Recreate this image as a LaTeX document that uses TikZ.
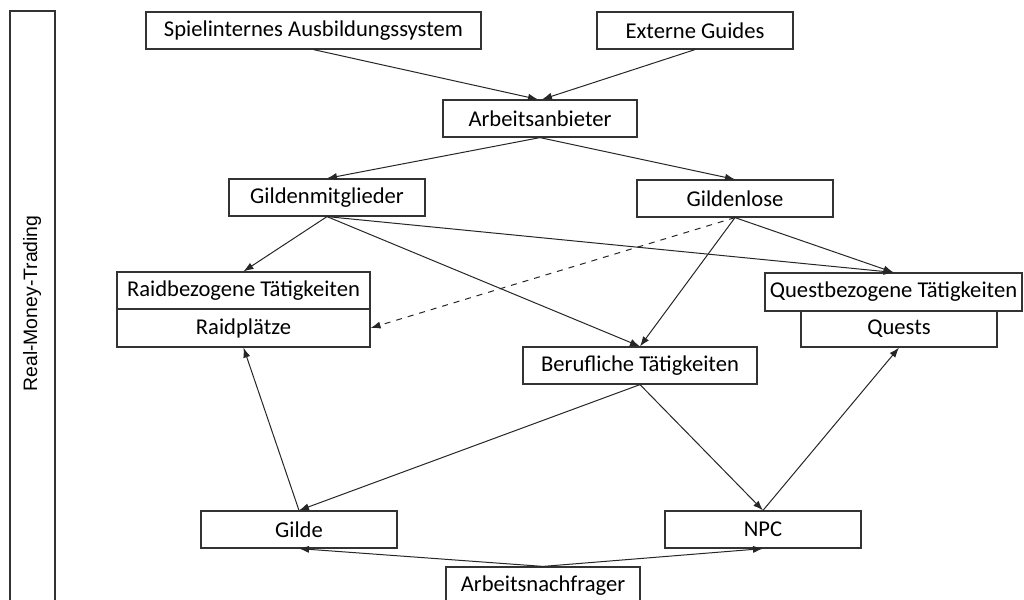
\documentclass[tikz,border=0pt]{standalone}
\usepackage{fontspec}
\setmainfont{Carlito}
\newfontfamily\sidefont{Liberation Sans}
\usetikzlibrary{arrows.meta,positioning}

\begin{document}
\begin{tikzpicture}[x=0.5pt, y=-0.5pt,
  box/.style={rectangle, draw=black!80, line width=0.6pt, fill=white, minimum width=98pt, minimum height=18.5pt, inner sep=0pt, align=center, font=\fontsize{11.3}{13}\selectfont},
  arrow/.style={-{Latex[length=5pt,width=3.6pt]}, line width=0.5pt, black!85}
]
\useasboundingbox (0,0) rectangle (1024,600);
% Seitenleiste
\draw[draw=black!80, line width=0.6pt] (10,11) rectangle (55,640);
\node[rotate=90, font=\sidefont\fontsize{9.7}{11}\selectfont] (rmt) at (32,303.5) {Real-Money-Trading};
% Knoten
\node[box, minimum width=167.5pt] (spiel) at (313.5,30.5) {Spielinternes Ausbildungssystem};
\node[box] (guides) at (695,30.5) {Externe Guides};
\node[box, minimum width=97pt] (anbieter) at (540,118.5) {Arbeitsanbieter};
\node[box] (mitglieder) at (327,197.5) {Gildenmitglieder};
\node[box] (gildenlos) at (735,198.5) {Gildenlose};
\node[box, minimum width=126.5pt] (raidtaet) at (243.5,290.5) {Raidbezogene Tätigkeiten};
\node[box, minimum width=126.5pt, minimum height=19pt] (raidplatz) at (243.5,328) {Raidplätze};
\node[box, minimum width=128.5pt, minimum height=19pt] (questtaet) at (893.5,292) {Questbezogene Tätigkeiten};
\node[box, minimum height=18pt] (quests) at (899,329) {Quests};
\node[box, minimum width=117pt] (beruf) at (640,365.5) {Berufliche Tätigkeiten};
\node[box] (gilde) at (299,529.5) {Gilde};
\node[box] (npc) at (763,529.5) {NPC};
\node[box, minimum width=97pt, minimum height=19pt] (nachfrager) at (543,586) {Arbeitsnachfrager};
% Verbindungen
\draw[arrow] (spiel.south) -- ([xshift=-1pt]anbieter.north);
\draw[arrow] (guides.south) -- ([xshift=1pt]anbieter.north);
\draw[arrow] (anbieter.south) -- (mitglieder.north);
\draw[arrow] (anbieter.south) -- (gildenlos.north);
\draw[arrow] (mitglieder.south) -- (raidtaet.north);
\draw[arrow] (mitglieder.south) -- (beruf.north);
\draw[arrow] (mitglieder.south) -- (questtaet.north);
\draw[arrow] (gildenlos.south) -- (beruf.north);
\draw[arrow] (gildenlos.south) -- (questtaet.north);
\draw[arrow, dashed] (gildenlos.south) -- (raidplatz.east);
\draw[arrow] (beruf.south) -- (gilde.north);
\draw[arrow] (beruf.south) -- (npc.north);
\draw[arrow] (gilde.north) -- (raidplatz.south);
\draw[arrow] (npc.north) -- (quests.south);
\draw[arrow] (nachfrager.north) -- (gilde.south);
\draw[arrow] (nachfrager.north) -- (npc.south);
\end{tikzpicture}
\end{document}
